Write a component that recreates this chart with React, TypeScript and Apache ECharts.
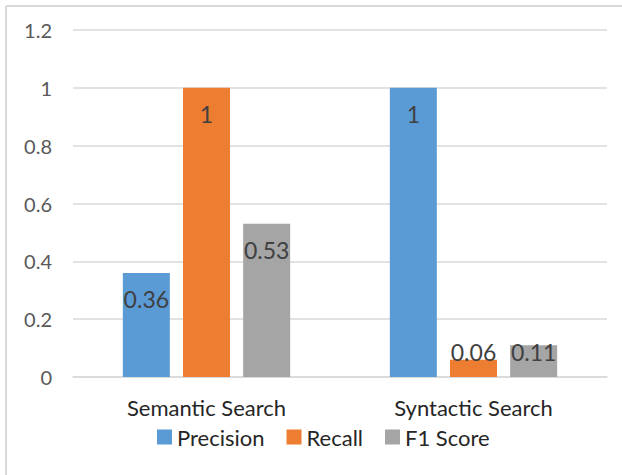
import React, { useEffect, useRef } from "react";
import * as echarts from "echarts";

const categories = ["Semantic Search", "Syntactic Search"];
const seriesNames = ["Precision", "Recall", "F1 Score"];
const precision = [0.36, 1];
const recall = [1, 0.06];
const f1Score = [0.53, 0.11];
const colors = ["#5B9BD5", "#ED7D31", "#A5A5A5"];
const yTicks = { min: 0, max: 1.2, interval: 0.2 };

const FONT = "Lato";

function labelFor(v: number) {
  if (v < 0.2) {
    return { show: true, position: "insideBottom", distance: 14 };
  }
  return { show: true, position: "insideTop", distance: 15 };
}

function makeSeries(name: string, values: number[], color: string) {
  return {
    name,
    type: "bar",
    barWidth: 47,
    barGap: "28%",
    itemStyle: { color },
    label: {
      fontFamily: FONT,
      fontSize: 23,
      color: "#404040",
    },
    data: values.map((v) => ({ value: v, label: labelFor(v) })),
  };
}

export default function App() {
  const ref = useRef<HTMLDivElement>(null);
  useEffect(() => {
    if (!ref.current) return;
    const chart = echarts.init(ref.current, undefined, { renderer: "svg" });
    chart.setOption({
      animation: false,
      backgroundColor: "#ffffff",
      textStyle: { fontFamily: FONT },
      grid: { left: 73, right: 15, top: 30, bottom: 98 },
      legend: {
        data: seriesNames,
        top: 421,
        left: 152,
        itemWidth: 15,
        itemHeight: 15,
        itemGap: 22,
        icon: "rect",
        textStyle: { fontFamily: FONT, fontSize: 22, color: "#262626" },
      },
      xAxis: {
        type: "category",
        data: categories,
        axisLine: { lineStyle: { color: "#d9d9d9", width: 1.5 } },
        axisTick: { show: false },
        axisLabel: { fontFamily: FONT, fontSize: 22, color: "#262626", margin: 19 },
      },
      yAxis: {
        type: "value",
        min: yTicks.min,
        max: yTicks.max,
        interval: yTicks.interval,
        axisLine: { show: false },
        axisTick: { show: false },
        splitLine: { lineStyle: { color: "#d9d9d9", width: 1.5 } },
        axisLabel: { fontFamily: FONT, fontSize: 20, color: "#595959", margin: 21 },
      },
      graphic: [
        { type: "line", shape: { x1: 6, y1: 6, x2: 6, y2: 475 }, style: { stroke: "#d9d9d9", lineWidth: 2 } },
        { type: "line", shape: { x1: 6, y1: 6, x2: 622, y2: 6 }, style: { stroke: "#d9d9d9", lineWidth: 2 } },
      ],
      series: [
        makeSeries(seriesNames[0], precision, colors[0]),
        makeSeries(seriesNames[1], recall, colors[1]),
        makeSeries(seriesNames[2], f1Score, colors[2]),
      ],
    });
    return () => chart.dispose();
  }, []);
  return (
    <div
      ref={ref}
      style={{ position: "fixed", left: 0, top: 0, width: 622, height: 475 }}
    />
  );
}
